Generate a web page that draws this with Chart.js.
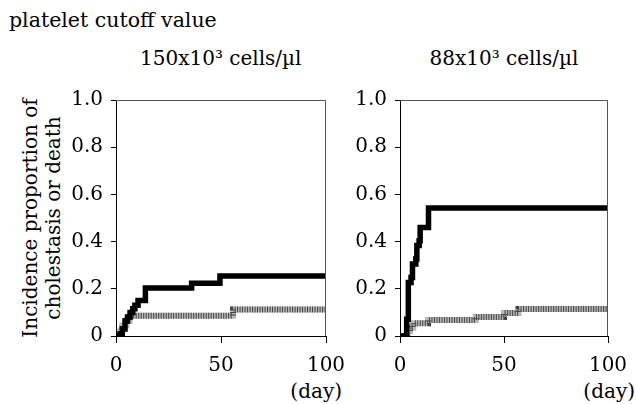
<!DOCTYPE html>
<html>
<head>
<meta charset="utf-8">
<script src="https://cdn.jsdelivr.net/npm/chart.js@4.4.1/dist/chart.umd.min.js"></script>
<style>
  html, body { margin:0; padding:0; background:#fff; }
  body { width:636px; height:404px; position:relative; overflow:hidden; font-family:'DejaVu Serif', serif; color:#000; }
  .t { position:absolute; font-size:20px; line-height:1; white-space:nowrap; }
  canvas { position:absolute; top:0; }
</style>
</head>
<body>
<div class="t" style="left:9px; top:10px; font-size:20.5px;">platelet cutoff value</div>
<div class="t" id="sub1" style="top:48px;"></div>
<div class="t" id="sub2" style="top:48px;"></div>
<div class="t" style="right:294px; top:381px;">(day)</div>
<div class="t" style="right:1px; top:381px;">(day)</div>
<div class="t" id="ytitle" style="width:300px; height:46px; line-height:23px; text-align:center; left:-108.5px; top:195px; transform:rotate(-90deg); transform-origin:150px 23px;">Incidence proportion of<br>cholestasis or death</div>
<canvas id="c1" width="345" height="404" style="left:0px; width:345px; height:404px;"></canvas>
<canvas id="c2" width="291" height="404" style="left:345px; width:291px; height:404px;"></canvas>
<script>
// ---- data ----
const panelTitles = ['150x10\u00B3 cells/\u00B5l', '88x10\u00B3 cells/\u00B5l'];
const xTicks = [0, 50, 100];
const yTicks = [0, 0.2, 0.4, 0.6, 0.8, 1.0];

// 150x10^3 panel: below-cutoff group (black) and above-cutoff group (gray)
const low150Days = [0, 2, 3, 4.3, 5.5, 6.7, 8, 9, 10.5, 14, 36, 49.5, 100];
const low150Vals = [0, 0.01, 0.03, 0.064, 0.08, 0.10, 0.115, 0.13, 0.15, 0.203, 0.224, 0.254, 0.254];
const high150Days = [0, 2, 3, 5, 6.5, 55.7, 100];
const high150Vals = [0, 0.02, 0.045, 0.065, 0.086, 0.112, 0.112];

// 88x10^3 panel
const low88Days = [0, 3.2, 4, 5.3, 6, 7.6, 8.1, 9.2, 9.7, 13.7, 100];
const low88Vals = [0, 0.071, 0.227, 0.248, 0.305, 0.326, 0.383, 0.404, 0.46, 0.542, 0.542];
const high88Days = [0, 2.5, 3.5, 4.8, 6.4, 13.5, 36.4, 50, 57, 100];
const high88Vals = [0, 0, 0.02, 0.035, 0.054, 0.068, 0.081, 0.097, 0.114, 0.114];

// ---- build ----
function pts(days, vals) { return days.map((d, i) => ({ x: d, y: vals[i] })); }

document.getElementById('sub1').textContent = panelTitles[0];
document.getElementById('sub2').textContent = panelTitles[1];

Chart.defaults.font.family = "'DejaVu Serif', serif";
Chart.defaults.font.size = 20;
Chart.defaults.color = '#000';

const framePlugin = {
  id: 'frame',
  afterDatasetsDraw(chart) {
    const a = chart.chartArea, ctx = chart.ctx;
    ctx.save();
    ctx.strokeStyle = '#555';
    ctx.lineWidth = 1;
    ctx.beginPath();
    ctx.moveTo(a.left, a.top + 0.5);
    ctx.lineTo(a.right - 0.5, a.top + 0.5);
    ctx.lineTo(a.right - 0.5, a.bottom);
    ctx.stroke();
    ctx.restore();
  }
};

function makeChart(id, lowD, lowV, highD, highV, yWidth, padRight) {
  return new Chart(document.getElementById(id), {
    type: 'line',
    data: {
      datasets: [
        { data: pts(lowD, lowV), borderColor: '#000', borderWidth: 5.5, stepped: 'before', pointRadius: 0, fill: false, borderCapStyle: 'butt', borderJoinStyle: 'miter' },
        { data: pts(highD, highV), borderColor: '#444', borderWidth: 6, borderDash: [1, 1.5], stepped: 'before', pointRadius: 0, fill: false, borderCapStyle: 'butt' },
        { data: pts(highD, highV), borderColor: '#b8b8b8', borderWidth: 6, stepped: 'before', pointRadius: 0, fill: false, borderCapStyle: 'butt' }
      ]
    },
    options: {
      responsive: false,
      animation: false,
      devicePixelRatio: 1,
      layout: { padding: { top: 100, right: padRight, bottom: 0, left: 0 } },
      plugins: { legend: { display: false }, tooltip: { enabled: false } },
      scales: {
        x: {
          type: 'linear', min: 0, max: 100,
          afterBuildTicks: (s) => { s.ticks = xTicks.map(v => ({ value: v })); },
          afterFit: (s) => { s.height = 68; s.paddingLeft = 0; s.paddingRight = 0; },
          grid: { drawOnChartArea: false, drawTicks: true, tickLength: 7, color: '#000' },
          border: { display: true, color: '#000', width: 1 },
          ticks: { padding: 11, maxRotation: 0, autoSkip: false }
        },
        y: {
          type: 'linear', min: 0, max: 1,
          afterBuildTicks: (s) => { s.ticks = yTicks.map(v => ({ value: v })); },
          afterFit: (s) => { s.width = yWidth; s.paddingTop = 0; s.paddingBottom = 0; },
          grid: { drawOnChartArea: false, drawTicks: true, tickLength: 5, color: '#000' },
          border: { display: true, color: '#000', width: 1 },
          ticks: { padding: 8, callback: (v) => v === 0 ? '0' : Number(v).toFixed(1) }
        }
      }
    },
    plugins: [framePlugin]
  });
}

const ch1 = makeChart('c1', low150Days, low150Vals, high150Days, high150Vals, 116, 19);
const ch2 = makeChart('c2', low88Days, low88Vals, high88Days, high88Vals, 55, 28);

// center panel titles over plot areas
function centerOver(elId, chart, offsetLeft) {
  const el = document.getElementById(elId);
  const a = chart.chartArea;
  const cx = offsetLeft + (a.left + a.right) / 2;
  el.style.left = (cx - el.offsetWidth / 2) + 'px';
}
centerOver('sub1', ch1, 0);
centerOver('sub2', ch2, 345);
</script>
</body>
</html>
